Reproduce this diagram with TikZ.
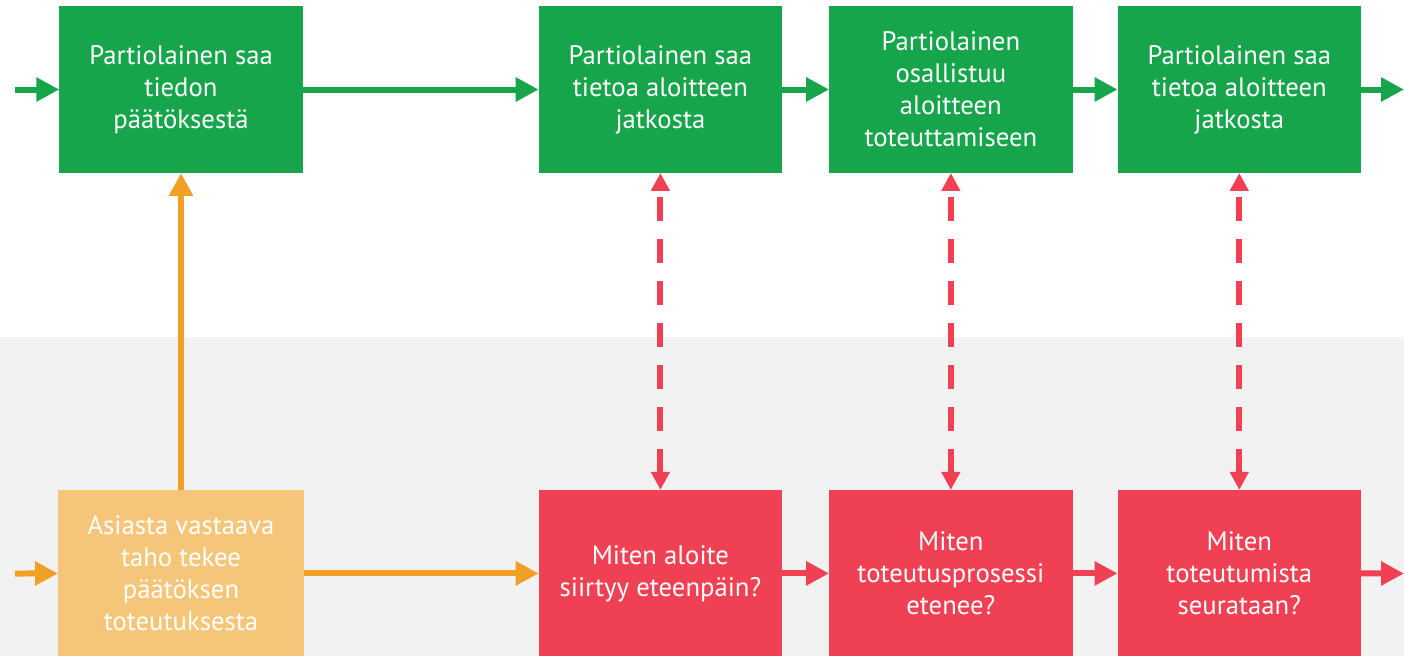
\documentclass[tikz,border=0pt]{standalone}
\usepackage{fontspec}
\setmainfont{PT Sans}
\usetikzlibrary{arrows.meta,positioning,backgrounds}
\definecolor{partio}{HTML}{17A54B}
\definecolor{paatos}{HTML}{F5C679}
\definecolor{paatosline}{HTML}{F0A024}
\definecolor{miten}{HTML}{EF4153}
\definecolor{pohja}{HTML}{F2F2F2}

\begin{document}
\begin{tikzpicture}[
  x=0.02cm, y=-0.02cm,
  font=\fontsize{15.2}{18.2}\selectfont,
  box/.style={align=center, text=white, minimum width=4.87cm, minimum height=3.34cm, inner sep=2pt, outer sep=0pt},
  flow/.style={-{Triangle[length=0.46cm,width=0.46cm]}, line width=0.12cm},
  link/.style={{Triangle[length=0.36cm,width=0.36cm]}-{Triangle[length=0.36cm,width=0.36cm]},
    line width=0.12cm, draw=miten, dash pattern=on 0.48cm off 0.36cm}
]
\useasboundingbox (0,0) rectangle (1404,656);

% top row: what the scout sees
\node[box,fill=partio] (tieto) at (181,89.5) {Partiolainen saa\\tiedon\\päätöksestä};
\node[box,fill=partio,right=4.72cm of tieto] (jatko) {Partiolainen saa\\tietoa aloitteen\\jatkosta};
\node[box,fill=partio,right=0.94cm of jatko] (osallistuu) {Partiolainen\\osallistuu\\aloitteen\\toteuttamiseen};
\node[box,fill=partio,right=0.9cm of osallistuu] (jatkob) {Partiolainen saa\\tietoa aloitteen\\jatkosta};

% bottom row: what happens behind
\node[box,fill=paatos,minimum width=4.92cm,below=6.34cm of tieto] (paatos) {Asiasta vastaava\\taho tekee\\päätöksen\\toteutuksesta};
\node[box,fill=miten,below=6.34cm of jatko] (eteenpain) {Miten aloite\\siirtyy eteenpäin?};
\node[box,fill=miten,below=6.34cm of osallistuu] (prosessi) {Miten\\toteutusprosessi\\etenee?};
\node[box,fill=miten,below=6.34cm of jatkob] (seuranta) {Miten\\toteutumista\\seurataan?};

\coordinate (alkuy) at (15,89.5);
\coordinate (loppuy) at (1404,89.5);
\coordinate (alkua) at (15,573.5);
\coordinate (loppua) at (1404,573.5);

\draw[flow,partio] (alkuy) -- (tieto);
\draw[flow,partio] (tieto) -- (jatko);
\draw[flow,partio] (jatko) -- (osallistuu);
\draw[flow,partio] (osallistuu) -- (jatkob);
\draw[flow,partio] (jatkob) -- (loppuy);

\draw[flow,paatosline] (alkua) -- (paatos);
\draw[flow,paatosline] (paatos) -- (eteenpain);
\draw[flow,paatosline] (paatos) -- (tieto);
\draw[flow,miten] (eteenpain) -- (prosessi);
\draw[flow,miten] (prosessi) -- (seuranta);
\draw[flow,miten] (seuranta) -- (loppua);

\draw[link] (eteenpain) -- (jatko);
\draw[link] (prosessi) -- (osallistuu);
\draw[link] (seuranta) -- (jatkob);

\begin{scope}[on background layer]
  \fill[pohja] (0,337) rectangle (1404,656);
\end{scope}
\end{tikzpicture}
\end{document}
